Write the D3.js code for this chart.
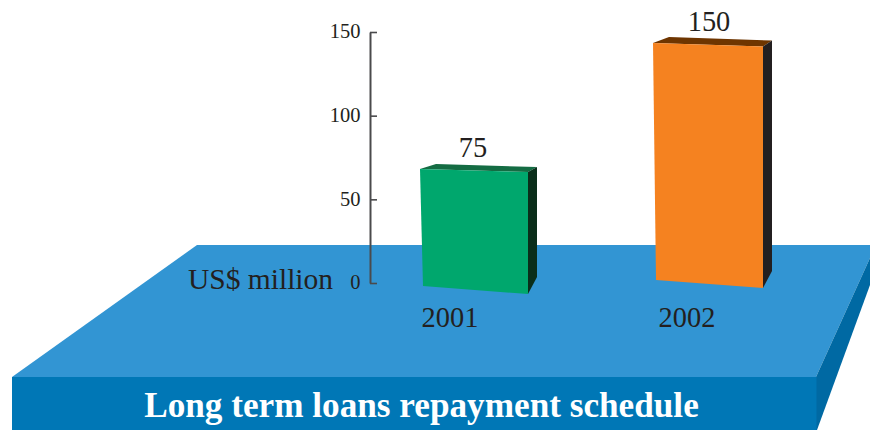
<!DOCTYPE html>
<html>
<head>
<meta charset="utf-8">
<script src="https://cdn.jsdelivr.net/npm/d3@7"></script>
<style>
  html, body { margin: 0; padding: 0; background: #fff; }
  svg { display: block; }
  text { font-family: "Liberation Serif", serif; fill: #231f20; }
</style>
</head>
<body>
<svg id="chart" width="870" height="430"></svg>
<script>
// Long term loan repayments by year
const years = ["2001", "2002"];
const repayments = [75, 150];
const axisTicks = [0, 50, 100, 150];
const frontColors = ["#00a76d", "#f58220"];
const topColors = ["#146c43", "#6e3500"];
const sideColors = ["#0a2e1a", "#231f20"];

const svg = d3.select("#chart");
const line = pts => "M" + pts.map(p => p.join(",")).join("L") + "Z";

// Floor slab drawn in oblique projection
const slab = svg.append("g");
slab.append("path").attr("fill", "#3295d3")
  .attr("d", line([[197, 245], [870, 245], [870, 258], [816, 377], [12, 377]]));
slab.append("path").attr("fill", "#0069a3")
  .attr("d", line([[816, 377], [870, 258], [870, 285], [817, 430], [816, 430]]));
slab.append("rect").attr("fill", "#0077b6")
  .attr("x", 12).attr("y", 377).attr("width", 804.5).attr("height", 53);

// Value axis
const y = d3.scaleLinear().domain([0, 150]).range([283, 32]);
const axis = svg.append("g").attr("transform", "translate(370,0)")
  .call(d3.axisRight(y).tickValues(axisTicks).tickSize(7).tickSizeOuter(0));
axis.selectAll(".domain").attr("stroke", "#4a4a4c").attr("stroke-width", 2);
axis.selectAll(".tick line").attr("stroke", "#4a4a4c").attr("stroke-width", 1.6);
axis.selectAll(".tick text")
  .attr("x", -9.5).attr("dy", 5.8)
  .attr("text-anchor", "end")
  .attr("font-size", 20.5)
  .style("font-family", '"Liberation Serif", serif')
  .style("fill", "#231f20");

svg.append("text").attr("x", 188).attr("y", 289)
  .attr("font-size", 29.5).text("US$ million");

// Perspective placement of the bars: each corner has its own scale
const leftTop = d3.scalePoint().domain(years).range([420, 653]);
const leftBase = d3.scalePoint().domain(years).range([423, 656]);
const right = d3.scalePoint().domain(years).range([528, 763]);
const baseLeftY = d3.scalePoint().domain(years).range([286, 280]);
const baseRightY = d3.scalePoint().domain(years).range([294, 288]);
const heightLeft = d3.scaleLinear().domain([75, 150]).range([117, 237]);
const heightRight = d3.scaleLinear().domain([75, 150]).range([122, 241.5]);
const depth = d3.scalePoint().domain(years).range([9, 9]);
const rise = d3.scalePoint().domain(years).range([5, 6]);
const labelX = d3.scalePoint().domain(years).range([473, 709]);
const yearX = d3.scalePoint().domain(years).range([450, 687]);

const bars = svg.selectAll(".bar")
  .data(years.map((year, i) => ({ year, value: repayments[i], i })))
  .join("g").attr("class", "bar");

bars.each(function (d) {
  const g = d3.select(this);
  const tlY = baseLeftY(d.year) - heightLeft(d.value);
  const trY = baseRightY(d.year) - heightRight(d.value);
  const tl = [leftTop(d.year), tlY];
  const tr = [right(d.year), trY];
  const br = [right(d.year), baseRightY(d.year)];
  const bl = [leftBase(d.year), baseLeftY(d.year)];
  const dx = depth(d.year), dy = rise(d.year);
  g.append("path").attr("fill", topColors[d.i])
    .attr("d", line([tl, [tl[0] + dx + 7, tl[1] - dy], [tr[0] + dx, tr[1] - dy], tr]));
  g.append("path").attr("fill", sideColors[d.i])
    .attr("d", line([tr, [tr[0] + dx, tr[1] - dy], [br[0] + dx, br[1] - 17], br]));
  g.append("path").attr("fill", frontColors[d.i])
    .attr("d", line([tl, tr, br, bl]));
  g.append("text").attr("x", labelX(d.year)).attr("y", tlY - 12)
    .attr("text-anchor", "middle").attr("font-size", 28.4).text(d.value);
  g.append("text").attr("x", yearX(d.year)).attr("y", 326.5)
    .attr("text-anchor", "middle").attr("font-size", 28.4).text(d.year);
});

svg.append("text").attr("x", 421.5).attr("y", 417)
  .attr("text-anchor", "middle").attr("font-size", 35.2).attr("font-weight", "bold")
  .style("fill", "#fff").text("Long term loans repayment schedule");
</script>
</body>
</html>
